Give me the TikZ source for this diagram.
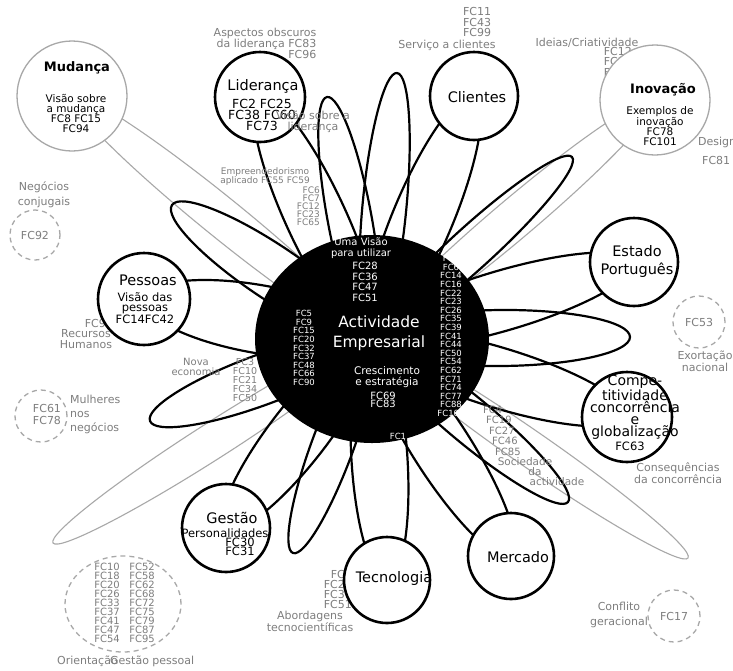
\documentclass[tikz,border=0pt]{standalone}
\usepackage{fontspec}
\setmainfont{DejaVu Sans}
\usetikzlibrary{calc,shapes.geometric,backgrounds}
\definecolor{PetalGray}{HTML}{A8A8A8}
\definecolor{NoteGray}{HTML}{7E7E7E}
\newcommand{\txtsize}[2]{\fontsize{#1}{#2}\selectfont}
\newcommand{\petal}[3][petal]{%
  \path let \p1=(hub.center), \p2=(#2.center), \n1={veclen(\x2-\x1,\y2-\y1)} in
    (\p1) -- (\p2) node[midway, sloped, #1, minimum width=\n1, minimum height=#3] {};}
\tikzset{
  topic/.style={circle, draw, line width=2.6pt, fill=white, inner sep=0pt, minimum size=#1},
  softtopic/.style={circle, draw=PetalGray, line width=1.3pt, fill=white, inner sep=0pt, minimum size=#1},
  aside/.style={circle, draw=PetalGray, line width=1.3pt, dash pattern=on 5pt off 4pt, inner sep=0pt, minimum size=#1},
  petal/.style={ellipse, draw, line width=2.2pt, inner sep=0pt},
  softpetal/.style={ellipse, draw=PetalGray, line width=1.1pt, inner sep=0pt},
  hubtitle/.style={text=white, font=\txtsize{15.5}{20}, align=center, inner sep=0pt},
  hubnote/.style={text=white, font=\txtsize{10}{10.5}, align=center, inner sep=0pt},
  hubcol/.style={text=white, font=\txtsize{8.5}{8.6}, align=center, inner sep=0pt},
  topictitle/.style={font=\txtsize{14.5}{18}, align=center, inner sep=0pt},
  softtitle/.style={font=\bfseries\txtsize{13}{14}, inner sep=0pt},
  subtext/.style={font=\txtsize{11.5}{10.5}, align=center, inner sep=0pt},
  note/.style={text=NoteGray, font=\txtsize{11}{11}, align=center, inner sep=0pt}
}
\begin{document}
\begin{tikzpicture}[x=1pt, y=-1pt]
  \useasboundingbox (0,0) rectangle (733,670);

  \node[note, align=right, anchor=east, font=\txtsize{11}{10.3}] (inoF) at (632,67) {FC12\\FC32\\FC40\\FC82};
  \node[note, anchor=east] (pesF) at (113,323) {FC93};
  \node[note, align=right, anchor=east, font=\txtsize{11}{10}] (tecF) at (352,589) {FC1\\FC29\\FC30\\FC51};

  \node[ellipse, fill=black, minimum width=234, minimum height=208, inner sep=0pt] (hub) at (372,339) {};
  \node[softtopic=110] (mud) at (72,96) {};
  \node[softtopic=110] (ino) at (655,100) {};
  \node[topic=90] (lid) at (260,97) {};
  \node[topic=88] (cli) at (474,96) {};
  \node[topic=88] (est) at (634,262) {};
  \node[topic=90] (comp) at (627,417) {};
  \node[topic=86] (merc) at (511,556) {};
  \node[topic=86] (tec) at (387,580) {};
  \node[topic=88] (ges) at (226,528) {};
  \node[topic=92] (pes) at (144,299) {};
  \node[aside=50] (neg) at (35,235) {};
  \node[aside=52] (exo) at (699,322) {};
  \node[aside=52] (mul) at (41,416) {};
  \node[aside=96, ellipse, minimum width=116] (ori) at (123,604) {};
  \node[aside=52] (con) at (674,616) {};

  \coordinate (tipN1) at (327,97);
  \coordinate (tipN2) at (397,73);
  \coordinate (tipNE) at (572,157);
  \coordinate (tipNW) at (172,205);
  \coordinate (tipE) at (630,337);
  \coordinate (tipW) at (150,421);
  \coordinate (tipS) at (293,553);
  \coordinate (tipSE) at (568,502);
  \coordinate (farSW) at (53,543);
  \coordinate (farSE) at (688,558);

  \begin{scope}[on background layer]
    \fill[white] (0,0) rectangle (733,670);
    \foreach \t/\w in {mud/40,ino/40,farSW/36,farSE/36} \petal[softpetal]{\t}{\w};
    \foreach \t/\w in {lid/60,cli/60,est/60,comp/60,merc/58,tec/56,ges/58,pes/68,
                      tipN1/44,tipN2/44,tipNE/42,tipNW/54,tipE/56,tipW/50,tipS/42,tipSE/46} \petal{\t}{\w};
  \end{scope}

  \node[hubnote] (visT) at (361,248) {Uma Visão\\para utilizar};
  \node[hubnote] (visF) at (365,282) {FC28\\FC36\\FC47\\FC51};
  \node[hubtitle] (hubT) at (379,333) {Actividade\\Empresarial};
  \node[hubnote, font=\txtsize{10.5}{11}] (creT) at (387,377) {Crescimento\\e estratégia};
  \node[hubnote, font=\txtsize{10}{8.5}] (creF) at (383,400) {FC69\\FC83};
  \node[hubcol] (colW) at (304,348) {FC5\\FC9\\FC15\\FC20\\FC32\\FC37\\FC48\\FC66\\FC90};
  \node[hubcol] (colE) at (451,336) {FC3\\FC6\\FC14\\FC16\\FC22\\FC23\\FC26\\FC35\\FC39\\FC41\\FC44\\FC50\\FC54\\FC62\\FC71\\FC74\\FC77\\FC88\\FC100};
  \node[hubcol] (colS) at (398,436) {FC1};

  \node[softtitle] (mudT) at (77,68) {Mudança};
  \node[subtext, font=\txtsize{10.5}{10}] (mudS) at (76,113) {Visão sobre\\a mudança\\FC8 FC15\\FC94};
  \node[softtitle] (inoT) at (663,90) {Inovação};
  \node[subtext, font=\txtsize{10.5}{10}] (inoS) at (660,126) {Exemplos de\\inovação\\FC78\\FC101};
  \node[topictitle] (lidT) at (263,86) {Liderança};
  \node[subtext, font=\txtsize{12.5}{11}] (lidS) at (262,115) {FC2 FC25\\FC38 FC60\\FC73};
  \node[topictitle] (cliT) at (477,97) {Clientes};
  \node[topictitle] (estT) at (637,261) {Estado\\Português};
  \node[topictitle, font=\txtsize{14}{12}] (compT) at (635,407) {Compe-\\titividade\\concorrência\\e\\globalização};
  \node[subtext] (compS) at (630,446) {FC63};
  \node[topictitle] (mercT) at (518,557) {Mercado};
  \node[topictitle] (tecT) at (394,578) {Tecnologia};
  \node[topictitle] (gesT) at (232,518) {Gestão};
  \node[subtext] (gesS) at (225,533) {Personalidades};
  \node[subtext, font=\txtsize{11.5}{9}] (gesF) at (240,547) {FC30\\FC31};
  \node[topictitle] (pesT) at (148,280) {Pessoas};
  \node[subtext, font=\txtsize{11.5}{9.5}] (pesS) at (145,308) {Visão das\\pessoas\\FC14FC42};

  \node[note] (negF) at (neg) {FC92};
  \node[note] (exoF) at (exo) {FC53};
  \node[note, font=\txtsize{11}{12}] (mulF) at (47,414) {FC61\\FC78};
  \node[note] (conF) at (con) {FC17};
  \node[note, font=\txtsize{10}{9}] (oriL) at (107,603) {FC10\\FC18\\FC20\\FC26\\FC33\\FC37\\FC41\\FC47\\FC54};
  \node[note, font=\txtsize{10}{9}] (oriR) at (142,603) {FC52\\FC58\\FC62\\FC68\\FC72\\FC75\\FC79\\FC87\\FC95};

  \node[note, align=right] (aspN) at (265,43) {Aspectos obscuros\\da liderança FC83\\FC96};
  \node[note] (lidN) at (313,122) {Visão sobre a\\liderança};
  \node[note, font=\txtsize{11}{10.5}] (cliF) at (477,22) {FC11\\FC43\\FC99};
  \node[note] (cliN) at (447,45) {Serviço a clientes};
  \node[note] (ideN) at (587,43) {Ideias/Criatividade};
  \node[note, anchor=west] (desN) at (698,142) {Design};
  \node[note, anchor=west] (desF) at (702,160) {FC81};
  \node[note, font=\txtsize{9}{9}] (empN) at (265,177) {Empreendedorismo\\aplicado FC55 FC59};
  \node[note, align=right, anchor=east, font=\txtsize{9}{8}] (empF) at (320,206) {FC6\\FC7\\FC12\\FC23\\FC65};
  \node[note, font=\txtsize{11}{15}] (negN) at (44,195) {Negócios\\conjugais};
  \node[note] (pesN) at (86,339) {Recursos\\Humanos};
  \node[note, font=\txtsize{10}{10}] (novN) at (196,367) {Nova\\economia};
  \node[note, font=\txtsize{9.5}{9}] (novF) at (245,380) {FC3\\FC10\\FC21\\FC34\\FC50};
  \node[note, align=left, anchor=west, font=\txtsize{11}{14}] (mulN) at (70,414) {Mulheres\\nos\\negócios};
  \node[note, font=\txtsize{11}{12}] (exoN) at (705,361) {Exortação\\nacional};
  \foreach \t [count=\i] in {FC4,FC19,FC27,FC46,FC85}
    \node[note, anchor=west, font=\txtsize{10}{10}] (soc\i) at (480+3*\i,399+10.5*\i) {\t};
  \node[note, font=\txtsize{10.5}{10}] (socA) at (525,462) {Sociedade};
  \node[note, font=\txtsize{10.5}{10}] (socB) at (535,472) {da};
  \node[note, font=\txtsize{10.5}{10}] (socC) at (557,482) {actividade};
  \node[note] (comN) at (678,473) {Consequências\\da concorrência};
  \node[note] (tecN) at (310,621) {Abordagens\\tecnocientíficas};
  \node[note, anchor=west] (oriA) at (57,661) {Orientação};
  \node[note, anchor=west] (oriB) at (110,661) {Gestão pessoal};
  \node[note, font=\txtsize{11}{15}] (conN) at (619,615) {Conflito\\geracional};
\end{tikzpicture}
\end{document}
